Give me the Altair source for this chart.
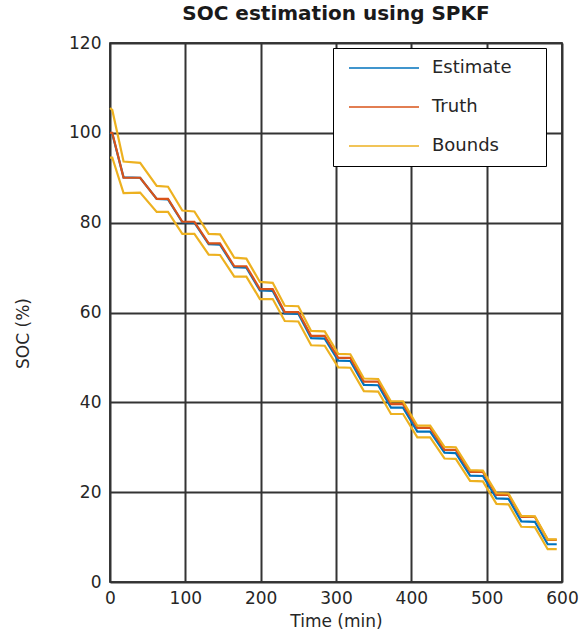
import altair as alt
import pandas as pd

# Corner points of the staircase traces (time in minutes, SOC in %)
time_min = [0, 3, 18, 40, 62, 77, 96, 112, 131, 146, 165, 181, 199, 216, 232, 250,
            267, 285, 303, 319, 337, 356, 373, 389, 408, 425, 444, 459, 478, 495,
            513, 529, 546, 564, 581, 593]
truth = [100, 100, 90, 90, 85.3, 85.3, 80.2, 80.2, 75.4, 75.4, 70.3, 70.3, 65.2, 65.2,
         60.1, 60.1, 54.8, 54.8, 49.9, 49.9, 44.6, 44.6, 39.6, 39.6, 34.3, 34.3,
         29.4, 29.4, 24.5, 24.5, 19.4, 19.4, 14.5, 14.5, 9.4, 9.4]
estimate = [100, 99.8, 90.1, 90, 85.3, 85.2, 80.1, 80.0, 75.2, 75.1, 70.1, 70.0, 64.9, 64.8,
            59.8, 59.7, 54.3, 54.2, 49.3, 49.2, 43.9, 43.8, 38.8, 38.8, 33.5, 33.5,
            28.8, 28.7, 23.7, 23.6, 18.6, 18.5, 13.5, 13.4, 8.4, 8.4]
upper = [105.5, 105.1, 93.6, 93.3, 88.2, 88.0, 82.7, 82.5, 77.5, 77.4, 72.2, 72.0, 66.8, 66.6,
         61.5, 61.4, 55.9, 55.8, 50.8, 50.7, 45.3, 45.2, 40.2, 40.2, 34.8, 34.8,
         30.1, 30.0, 24.9, 24.8, 19.8, 19.7, 14.7, 14.6, 9.5, 9.5]
lower = [94.5, 94.5, 86.6, 86.7, 82.4, 82.4, 77.5, 77.5, 72.9, 72.8, 68.0, 68.0, 63.0, 63.0,
         58.1, 58.0, 52.7, 52.6, 47.8, 47.7, 42.5, 42.4, 37.4, 37.4, 32.2, 32.2,
         27.5, 27.4, 22.5, 22.4, 17.4, 17.3, 12.3, 12.2, 7.3, 7.3]

series_names = ["Estimate", "Truth", "Bounds"]
series_colors = ["#0072BD", "#D95319", "#EDB120"]
x_ticks = [0, 100, 200, 300, 400, 500, 600]
y_ticks = [0, 20, 40, 60, 80, 100, 120]

def frame(values, name, part):
    return pd.DataFrame({"t": time_min, "v": values, "series": name, "part": part})

est_df = frame(estimate, "Estimate", "est")
truth_df = frame(truth, "Truth", "truth")
bounds_df = pd.concat([frame(upper, "Bounds", "upper"), frame(lower, "Bounds", "lower")])

FONT = "DejaVu Sans"
PAD = "\u00a0" * 4 + "\u200b"   # invisible right padding so the legend box is as wide as the reference

x_enc = alt.X("t:Q", scale=alt.Scale(domain=[0, 600], nice=False),
              axis=alt.Axis(values=x_ticks, title="Time (min)", grid=True, ticks=False,
                            domain=False, labelPadding=8, titlePadding=7, labelFlush=False))
y_enc = alt.Y("v:Q", scale=alt.Scale(domain=[0, 120], nice=False),
              axis=alt.Axis(values=y_ticks, title="SOC (%)", grid=True, ticks=False,
                            domain=False, labelPadding=9, titleX=-78, titleY=290,
                            titleAngle=-90, titleAlign="center", titleBaseline="bottom",
                            labelFlush=False))
color_enc = alt.Color("series:N",
                      scale=alt.Scale(domain=series_names, range=series_colors),
                      legend=alt.Legend(title=None, orient="none", legendX=223, legendY=5,
                                        direction="vertical", fillColor="white",
                                        strokeColor="black", padding=11,
                                        symbolType="M-1,0H9", symbolSize=196,
                                        symbolStrokeWidth=1.5, symbolOffset=3,
                                        labelOffset=67, labelFontSize=18, labelFont=FONT,
                                        labelColor="#262626", rowPadding=21,
                                        labelExpr="datum.label + '" + PAD + "'"))

def layer(df, with_detail=False):
    enc = dict(x=x_enc, y=y_enc, color=color_enc)
    if with_detail:
        enc["detail"] = "part:N"
    return alt.Chart(df).mark_line(strokeWidth=2.2).encode(**enc)

chart = alt.layer(
    layer(est_df), layer(truth_df), layer(bounds_df, with_detail=True)
).properties(
    width=452, height=539,
    title=alt.TitleParams("SOC estimation using SPKF", font=FONT, fontSize=20,
                          fontWeight="bold", color="#1a1a1a", offset=10),
    autosize=alt.AutoSizeParams(type="none"),
    padding={"left": 110, "top": 43, "right": 25, "bottom": 53},
).configure_view(
    stroke="black", strokeWidth=1.5
).configure_axis(
    labelFont=FONT, labelFontSize=17, labelColor="#262626",
    titleFont=FONT, titleFontSize=17, titleColor="#262626", titleFontWeight="normal",
    gridColor="#333333", gridWidth=2, gridOpacity=1
)

chart.save("out.html", embed_options={"renderer": "svg", "actions": False})
